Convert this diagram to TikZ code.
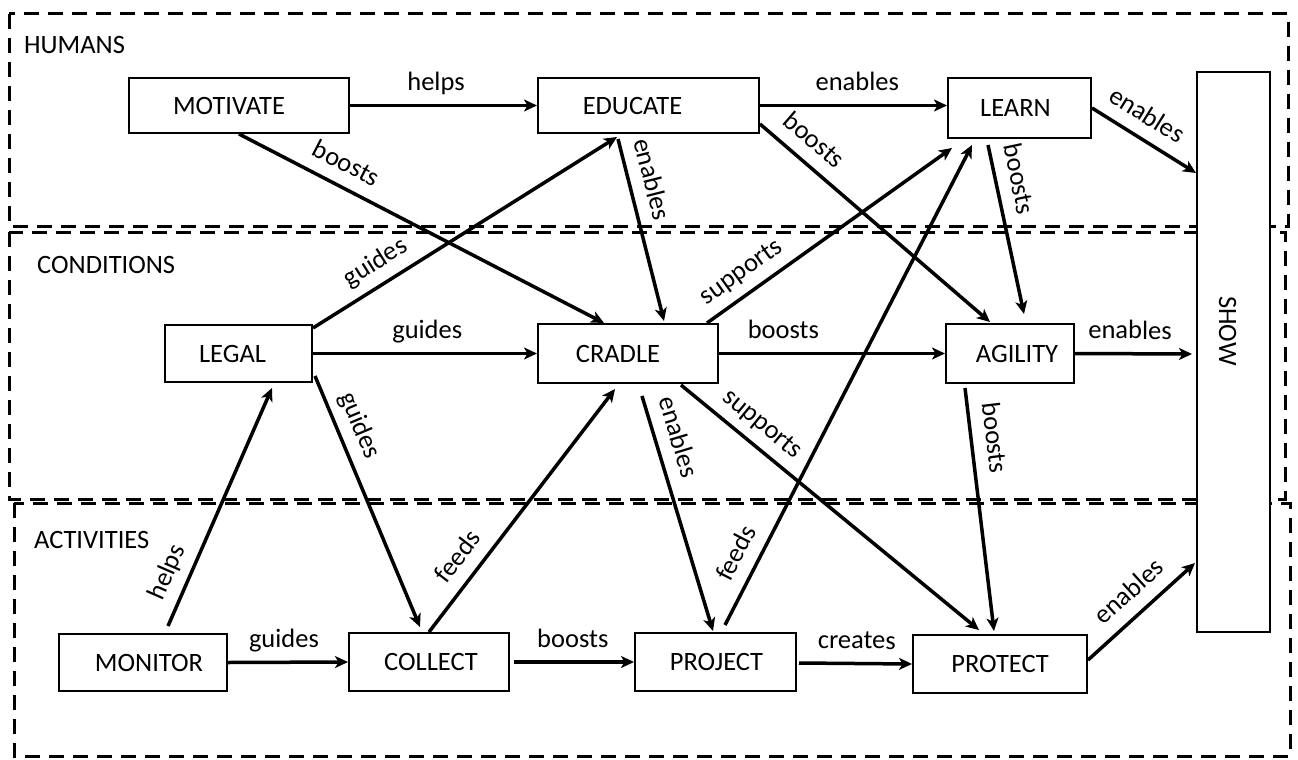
\documentclass[tikz,border=0pt]{standalone}
\usepackage{fontspec}
\setmainfont{Carlito}
\usetikzlibrary{arrows.meta,calc}
\newcommand{\tshift}[2]{\makebox[0pt]{\hspace*{#1}\hspace*{#1}#2}}
\begin{document}
\begin{tikzpicture}[x=1pt,y=-1pt,
  every node/.style={font=\fontsize{26.5pt}{31pt}\selectfont},
  box/.style={draw, line width=2pt, fill=white, inner sep=0pt},
  region/.style={draw, line width=3pt, dash pattern=on 15pt off 9pt},
  conn/.style={line width=3.5pt, -{Stealth[length=13pt,width=12pt,inset=3.5pt]}},
  lab/.style={sloped, above, text depth=0pt, inner xsep=2pt, inner ysep=13pt},
  title/.style={anchor=base west, inner sep=0pt}]
\useasboundingbox (0,0) rectangle (1298,760);
% regions
\draw[region] (9,14) rectangle (1288,226);
\draw[region] (9,232) rectangle (1285,499);
\draw[region] (14,503) rectangle (1290,756);
\node[title] (humans) at (24,53) {HUMANS};
\node[title] (conditions) at (37,273) {CONDITIONS};
\node[title] (activities) at (34,548) {ACTIVITIES};
% nodes
\node[box, minimum width=220pt, minimum height=55pt] (motivate) at (239,105.5) {\tshift{-10pt}{MOTIVATE}};
\node[box, minimum width=221pt, minimum height=55pt] (educate) at (648.5,105.5) {\tshift{-16pt}{EDUCATE}};
\node[box, minimum width=143pt, minimum height=60pt] (learn) at (1019.5,108) {\tshift{-4pt}{LEARN}};
\node[box, minimum width=73pt, minimum height=560pt,
  label={[xshift=-6pt,yshift=21pt,rotate=-90]center:SHOW}] (show) at (1233.5,352) {};
\node[box, minimum width=147pt, minimum height=57pt] (legal) at (238.5,353.5) {\tshift{-6pt}{LEGAL}};
\node[box, minimum width=180pt, minimum height=59pt] (cradle) at (628,353.5) {\tshift{-10pt}{CRADLE}};
\node[box, minimum width=128pt, minimum height=59pt] (agility) at (1010,353.5) {\tshift{7pt}{AGILITY}};
\node[box, minimum width=168pt, minimum height=57pt] (monitor) at (143,662.5) {\tshift{6pt}{MONITOR}};
\node[box, minimum width=160pt, minimum height=58pt] (collect) at (429,662) {\tshift{2pt}{COLLECT}};
\node[box, minimum width=161pt, minimum height=58pt] (project) at (715.5,662) {\tshift{1pt}{PROJECT}};
\node[box, minimum width=174pt, minimum height=58pt] (protect) at (1000,664) {PROTECT};
% connectors
\draw[conn] (motivate.east) -- node[lab,pos=0.46]{helps} (educate.west);
\draw[conn] (educate.east) -- node[lab,pos=0.52]{enables} (educate.east -| learn.west);
\draw[conn] (learn.east) -- node[lab,pos=0.41]{enables} ($(show.north west)+(0,102)$);
\draw[conn] (motivate.south) -- node[lab,pos=0.265]{boosts} ($(cradle.north west)+(67,0)$);
\draw[conn] ($(legal.north east)+(0,4)$) -- node[lab,pos=0.244]{guides} ($(educate.south west)+(80,3)$);
\draw[conn] ($(educate.south west)+(81,5)$) -- node[lab,pos=0.253]{enables} ($(cradle.north west)+(127,-2)$);
\draw[conn] ($(educate.north east)+(0,47)$) -- node[lab,pos=0.17]{boosts} ($(agility.north west)+(45,-1)$);
\draw[conn] ($(learn.south west)+(41,6)$) -- node[lab,pos=0.229]{boosts} ($(agility.north west)+(79,-9)$);
\draw[conn] ($(cradle.north east)+(-12,0)$) -- node[lab,pos=0.191]{supports} ($(learn.south west)+(5,9)$);
\draw[conn] ($(project.north west)+(91,-7)$) -- node[lab,pos=0.128]{feeds} ($(learn.south west)+(25,6)$);
\draw[conn] (legal.east) -- node[lab,pos=0.51]{guides} (cradle.west);
\draw[conn] (cradle.east) -- node[lab,pos=0.285]{boosts} (agility.west);
\draw[conn] (agility.east) -- node[lab,pos=0.47]{enables} ($(show.west)+(-4,2)$);
\draw[conn] ($(legal.south east)+(2,-7)$) -- node[lab,pos=0.231]{guides} ($(collect.north west)+(72,-5)$);
\draw[conn] ($(monitor.north west)+(110,-7)$) -- node[lab,pos=0.188]{helps} ($(legal.south west)+(108,5)$);
\draw[conn] (collect.north) -- node[lab,pos=0.252]{feeds} ($(cradle.south west)+(78,5)$);
\draw[conn] ($(cradle.south west)+(105,12)$) -- node[lab,pos=0.203]{enables} ($(project.north west)+(79,-1)$);
\draw[conn] ($(cradle.south west)+(144,1)$) -- node[lab,pos=0.228]{supports} ($(protect.north west)+(67,-4)$);
\draw[conn] ($(agility.south west)+(20,4)$) -- node[lab,pos=0.216]{boosts} ($(protect.north west)+(82,-3)$);
\draw[conn] (monitor.east) -- node[lab,pos=0.467]{guides} (collect.west);
\draw[conn] ($(collect.east)+(4,0)$) -- node[lab,pos=0.49]{boosts} (project.west);
\draw[conn] ($(project.east)+(2,1)$) -- node[lab,pos=0.51]{creates} (protect.west);
\draw[conn] ($(protect.east)+(0,-4)$) -- node[lab,pos=0.528]{enables} ($(show.south west)+(-1,-70)$);
\end{tikzpicture}
\end{document}
